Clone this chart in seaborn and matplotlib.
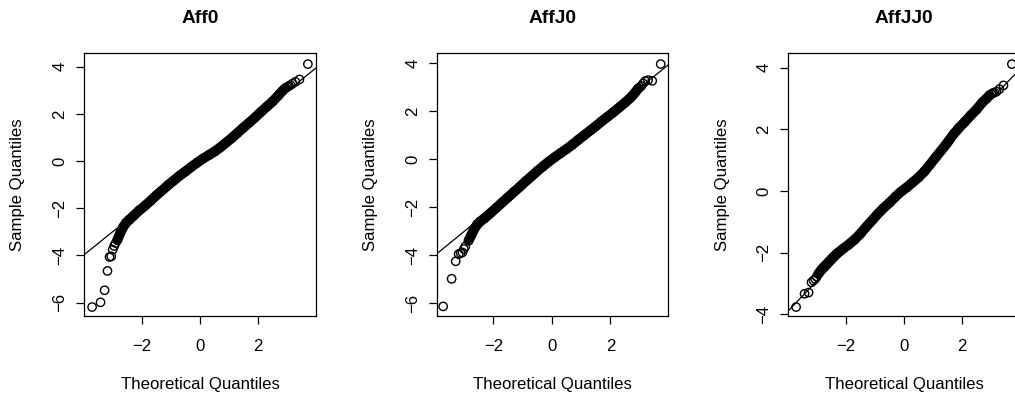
import matplotlib
matplotlib.use("Agg")
import matplotlib.pyplot as plt
import seaborn as sns
import pandas as pd

# ---- data -------------------------------------------------------------
titles = ["Aff0", "AffJ0", "AffJJ0"]

# dense central part of each normal Q-Q plot (theoretical, sample)
aff0_body_x = [-2.85, -2.75, -2.65, -2.55, -2.45, -2.3, -2.1, -1.9, -1.7, -1.5, -1.3,
               -1.1, -0.9, -0.7, -0.5, -0.3, -0.1, 0.1, 0.3, 0.5, 0.7, 0.9, 1.1, 1.3,
               1.5, 1.7, 1.9, 2.1, 2.3, 2.5, 2.7, 2.85, 2.95]
aff0_body_y = [-3.35, -3.05, -2.8, -2.62, -2.5, -2.33, -2.1, -1.9, -1.68, -1.45, -1.24,
               -1.02, -0.82, -0.62, -0.44, -0.25, -0.07, 0.1, 0.25, 0.4, 0.58, 0.78, 0.98,
               1.2, 1.42, 1.63, 1.85, 2.08, 2.3, 2.52, 2.78, 2.98, 3.1]
# sparse extreme observations
aff0_tail_x = [-3.72, -3.43, -3.29, -3.19, -3.12, -3.06, -3.01, -2.96, -2.91,
               3.01, 3.06, 3.12, 3.19, 3.29, 3.43, 3.72]
aff0_tail_y = [-6.19, -5.99, -5.48, -4.66, -4.07, -4.04, -3.76, -3.6, -3.48,
               3.14, 3.18, 3.22, 3.28, 3.36, 3.46, 4.11]

affj0_body_x = [-2.85, -2.75, -2.65, -2.55, -2.45, -2.3, -2.1, -1.9, -1.7, -1.5, -1.3,
                -1.1, -0.9, -0.7, -0.5, -0.3, -0.1, 0.1, 0.3, 0.5, 0.7, 0.9, 1.1, 1.3,
                1.5, 1.7, 1.9, 2.1, 2.3, 2.5, 2.7, 2.85, 2.95]
affj0_body_y = [-3.4, -3.15, -2.9, -2.72, -2.6, -2.46, -2.25, -2.03, -1.81, -1.59, -1.37,
                -1.16, -0.93, -0.72, -0.5, -0.3, -0.1, 0.08, 0.25, 0.42, 0.6, 0.8, 0.99,
                1.18, 1.37, 1.57, 1.76, 1.95, 2.15, 2.35, 2.57, 2.78, 2.94]
affj0_tail_x = [-3.72, -3.43, -3.29, -3.19, -3.12, -3.06, -3.01, -2.96,
                3.01, 3.06, 3.12, 3.19, 3.29, 3.43, 3.72]
affj0_tail_y = [-6.14, -4.99, -4.26, -3.96, -3.92, -3.89, -3.75, -3.64,
                3.0, 3.05, 3.15, 3.25, 3.29, 3.26, 3.96]

affjj0_body_x = [-2.95, -2.85, -2.75, -2.6, -2.45, -2.3, -2.1, -1.9, -1.7, -1.5, -1.3,
                 -1.1, -0.9, -0.7, -0.5, -0.3, -0.1, 0.1, 0.3, 0.5, 0.7, 0.9, 1.1, 1.3,
                 1.5, 1.7, 1.9, 2.1, 2.3, 2.5, 2.7, 2.85, 2.95]
affjj0_body_y = [-2.68, -2.55, -2.45, -2.3, -2.15, -2.02, -1.87, -1.73, -1.57, -1.38, -1.16,
                 -0.95, -0.74, -0.55, -0.38, -0.19, -0.02, 0.12, 0.28, 0.44, 0.63, 0.86,
                 1.1, 1.33, 1.57, 1.83, 2.05, 2.24, 2.45, 2.64, 2.87, 3.0, 3.1]
affjj0_tail_x = [-3.72, -3.43, -3.29, -3.19, -3.12, -3.06, -3.01,
                 3.01, 3.06, 3.12, 3.19, 3.29, 3.43, 3.72]
affjj0_tail_y = [-3.76, -3.33, -3.29, -2.96, -2.9, -2.85, -2.78,
                 3.14, 3.17, 3.19, 3.22, 3.3, 3.42, 4.11]

# reference line through the quartiles
qqline_intercept = [-0.015, -0.03, 0.03]
qqline_slope = [0.99, 0.995, 0.98]

x_ticks = [-2, 0, 2]
y_ticks = [[-6, -4, -2, 0, 2, 4], [-6, -4, -2, 0, 2, 4], [-4, -2, 0, 2, 4]]

panels = [
    (aff0_body_x, aff0_body_y, aff0_tail_x, aff0_tail_y),
    (affj0_body_x, affj0_body_y, affj0_tail_x, affj0_tail_y),
    (affjj0_body_x, affjj0_body_y, affjj0_tail_x, affjj0_tail_y),
]

# ---- layout -----------------------------------------------------------
W, H, DPI = 1015, 398, 100
# plot boxes in pixels: left, right, top, bottom
boxes = [(84, 316, 53, 316), (437, 668, 53, 316), (788, 1020, 53, 316)]
xlims = [(-4.0, 4.0), (-3.93, 3.97), (-4.0, 4.0)]
ylims = [(-6.57, 4.58), (-6.54, 4.42), (-4.05, 4.47)]
FS = 12.1

sns.set_style("ticks")
plt.rcParams["font.family"] = ["Liberation Sans", "DejaVu Sans"]
plt.rcParams["axes.unicode_minus"] = True
plt.rcParams["text.color"] = "black"
plt.rcParams["axes.labelcolor"] = "black"

fig = plt.figure(figsize=(W / DPI, H / DPI), dpi=DPI)
fig.patch.set_facecolor("white")

for i, (bx, by, tx, ty) in enumerate(panels):
    l, r, t, b = boxes[i]
    ax = fig.add_axes([l / W, (H - b) / H, (r - l) / W, (b - t) / H])
    ax.set_facecolor("white")

    # overlapping circles of the dense centre form a solid band
    sns.lineplot(x=bx, y=by, sort=False, estimator=None, color="black",
                 linewidth=7.2, solid_capstyle="round", ax=ax, zorder=2)
    pts = pd.DataFrame({"x": list(bx) + list(tx), "y": list(by) + list(ty)})
    sns.scatterplot(data=pts, x="x", y="y", ax=ax, marker="o", s=36,
                    edgecolor="black", linewidth=1.0, zorder=3)
    ax.collections[-1].set_facecolor("none")

    ax.axline((0, qqline_intercept[i]), slope=qqline_slope[i],
              color="black", linewidth=0.9, zorder=4)

    ax.set_xlim(*xlims[i])
    ax.set_ylim(*ylims[i])
    ax.set_xticks(x_ticks)
    ax.set_yticks(y_ticks[i])
    ax.set_xticklabels([f"{v:d}".replace("-", "\u2212") for v in x_ticks])
    ax.set_yticklabels([f"{v:d}".replace("-", "\u2212") for v in y_ticks[i]],
                       rotation=90, va="center")

    for s in ax.spines.values():
        s.set_visible(True)
        s.set_color("black")
        s.set_linewidth(0.9)
    ax.tick_params(axis="both", direction="out", length=5.5, width=0.9,
                   color="black", labelsize=FS, labelcolor="black")
    ax.tick_params(axis="x", pad=11.2)
    ax.tick_params(axis="y", pad=6.4)

    ax.set_title(titles[i], fontsize=13.8, fontweight="bold", pad=21.4,
                 color="black")
    ax.set_xlabel("Theoretical Quantiles", fontsize=FS, va="baseline",
                  color="black")
    ax.xaxis.set_label_coords(0.5, -(389 - b) / (b - t))
    ax.set_ylabel("Sample Quantiles", fontsize=FS, va="baseline",
                  rotation_mode="anchor", color="black")
    ax.yaxis.set_label_coords(-61.5 / (r - l), 0.5)

fig.savefig("out.png", dpi=DPI)
